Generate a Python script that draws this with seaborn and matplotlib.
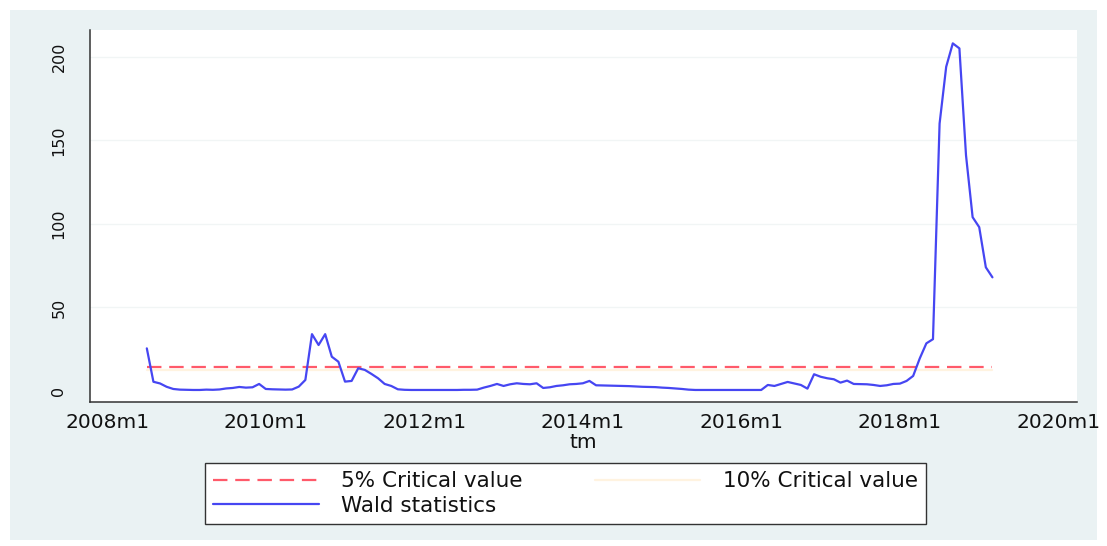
import numpy as np
import pandas as pd
import matplotlib
matplotlib.use("Agg")
import matplotlib.pyplot as plt
from matplotlib.patches import Rectangle
import seaborn as sns

# ---------------- data ----------------
start_month = "2008-07"
end_month = "2019-03"
wald_2008 = [25.5, 5.5, 4.5, 2.5, 1.2, 0.8]
wald_2009 = [0.7, 0.6, 0.6, 0.8, 0.7, 0.9, 1.5, 1.8, 2.4, 2.0, 2.2, 4.2]
wald_2010 = [1.2, 1.0, 0.9, 0.8, 0.9, 2.6, 6.6, 34.0, 27.5, 34.0, 20.5, 17.5]
wald_2011 = [5.6, 6.0, 13.6, 12.6, 10.2, 7.6, 4.2, 3.0, 1.0, 0.7, 0.6, 0.6]
wald_2012 = [0.6, 0.6, 0.6, 0.6, 0.6, 0.6, 0.7, 0.7, 0.8, 2.0, 3.0, 4.2]
wald_2013 = [3.0, 4.0, 4.6, 4.2, 4.0, 4.6, 1.8, 2.2, 3.0, 3.4, 4.0, 4.2]
wald_2014 = [4.6, 6.0, 3.4, 3.3, 3.2, 3.1, 3.0, 2.9, 2.7, 2.5, 2.4, 2.3]
wald_2015 = [2.0, 1.8, 1.5, 1.2, 0.8, 0.6, 0.6, 0.6, 0.6, 0.6, 0.6, 0.6]
wald_2016 = [0.6, 0.6, 0.6, 0.6, 3.6, 3.0, 4.2, 5.4, 4.5, 3.6, 1.4, 10.0]
wald_2017 = [8.5, 7.6, 7.0, 5.0, 6.2, 4.2, 4.1, 4.0, 3.6, 3.0, 3.4, 4.2]
wald_2018 = [4.4, 6.0, 9.0, 19.5, 28.5, 31.0, 160.0, 194.0, 208.0, 205.0, 141.0, 104.0]
wald_2019 = [98.0, 74.0, 68.0]
crit_5 = 14.6
crit_10 = 12.5
tick_labels = ["2008m1", "2010m1", "2012m1", "2014m1", "2016m1", "2018m1", "2020m1"]
y_ticks = [0, 50, 100, 150, 200]

wald = (wald_2008 + wald_2009 + wald_2010 + wald_2011 + wald_2012 + wald_2013
        + wald_2014 + wald_2015 + wald_2016 + wald_2017 + wald_2018 + wald_2019)
periods = pd.period_range(start_month, end_month, freq="M")
base = pd.Period("2008-01", freq="M")
tm = np.array([(p - base).n for p in periods])
df = pd.DataFrame({"tm": tm, "wald": wald,
                   "cv5": [crit_5] * len(tm), "cv10": [crit_10] * len(tm)})

tick_pos = [(pd.Period(lbl.replace("m", "-"), freq="M") - base).n for lbl in tick_labels]

# ---------------- figure ----------------
sns.set_theme(style="white")
plt.rcParams["font.family"] = ["DejaVu Sans"]

W, H = 1107, 546
fig = plt.figure(figsize=(W / 100, H / 100), dpi=100)
fig.patch.set_facecolor("white")
fig.patches.append(Rectangle((10 / W, 6 / H), (1097 - 10) / W, (536 - 6) / H,
                             transform=fig.transFigure, facecolor="#EAF2F3",
                             edgecolor="none", zorder=-10))

ax = fig.add_axes([90 / W, (H - 402) / H, 987 / W, 372 / H])
ax.set_facecolor("white")

for yv in y_ticks[1:]:
    ax.axhline(yv, color="#F1F5F5", lw=1.0, zorder=0)

sns.lineplot(data=df, x="tm", y="cv5", ax=ax, color="#FF5A6A", lw=1.6,
             dashes=False, label="5% Critical value", zorder=3)
ax.lines[-1].set_dashes((6.5, 3.5))
sns.lineplot(data=df, x="tm", y="cv10", ax=ax, color="#FFF3E0", lw=1.6,
             label="10% Critical value", zorder=2)
sns.lineplot(data=df, x="tm", y="wald", ax=ax, color="#4646F2", lw=1.6,
             label="Wald statistics", zorder=4)

ax.set_xlim(-2.6, 146.8)
ax.set_ylim(-6.6, 216)
ax.set_xticks(tick_pos)
ax.set_xticklabels(tick_labels, fontsize=14.5)
ax.set_yticks(y_ticks)
ax.set_yticklabels([str(v) for v in y_ticks], fontsize=11.5, rotation=90, va="center")
ax.tick_params(axis="x", direction="out", length=8, width=1.1, color="#333333",
               pad=0, labelcolor="#111111")
ax.tick_params(axis="y", direction="out", length=8, width=1.1, color="#333333",
               pad=9, labelcolor="#111111")
ax.set_xlabel("tm", fontsize=14.5, labelpad=1, color="#111111")
ax.set_ylabel("")
for s in ["top", "right"]:
    ax.spines[s].set_visible(False)
for s in ["left", "bottom"]:
    ax.spines[s].set_color("#333333")
    ax.spines[s].set_linewidth(1.1)

handles, labels = ax.get_legend_handles_labels()
ax.get_legend().remove()
order = [0, 2, 1]
leg = fig.legend([handles[i] for i in order], [labels[i] for i in order],
                 ncol=2, loc="upper left",
                 bbox_to_anchor=(205 / W, 1 - 463 / H),
                 fontsize=15.5, frameon=True, fancybox=False, shadow=False,
                 handlelength=4.9, handletextpad=1.05, columnspacing=3.35,
                 borderpad=0.38, labelspacing=0.22, borderaxespad=0)
leg.get_frame().set_edgecolor("#333333")
leg.get_frame().set_linewidth(1.0)
leg.get_frame().set_facecolor("white")
leg.get_frame().set_alpha(1)
for t in leg.get_texts():
    t.set_color("#111111")

fig.savefig("out.png", dpi=100, facecolor=fig.get_facecolor())
